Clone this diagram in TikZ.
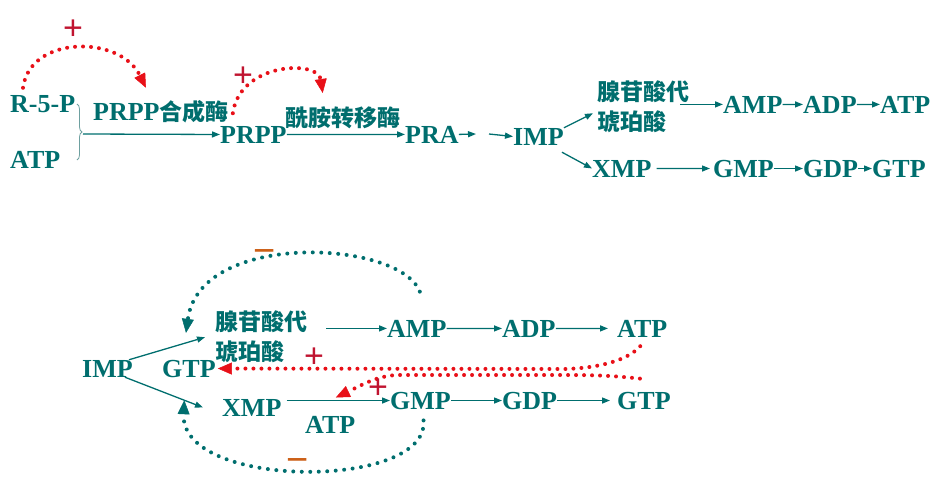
\documentclass[tikz,border=0pt]{standalone}
\usepackage{fontspec}
\setmainfont{Liberation Serif}
\setsansfont{Liberation Sans}
\newfontfamily\cjk{Noto Sans CJK SC}
\usepackage{tikz}
\usetikzlibrary{arrows.meta, decorations.pathreplacing}
\definecolor{myteal}{RGB}{0,110,110}
\definecolor{mybrace}{RGB}{110,160,160}
\definecolor{myred}{RGB}{232,16,24}
\definecolor{mycrimson}{RGB}{192,20,48}
\definecolor{myorange}{RGB}{204,96,24}
\newcommand{\zhtxt}[1]{{\cjk\fontsize{23}{30}\selectfont #1}}
\tikzset{
  met/.style={text=myteal, inner sep=0pt, anchor=base west,
    font=\fontsize{26}{28}\selectfont\bfseries},
  enz/.style={text=myteal, inner sep=0pt, anchor=base west,
    font=\cjk\fontsize{23}{30}\selectfont\bfseries},
  plus/.style={text=mycrimson, inner sep=0pt,
    font=\sffamily\fontsize{34}{34}\selectfont},
  minus/.style={text=myorange, inner sep=0pt,
    font=\sffamily\fontsize{38}{38}\selectfont},
  arrow/.style={-{Triangle[length=8pt, width=6pt]}, line width=1.3pt, color=myteal},
  actv/.style={-{Triangle[length=14pt, width=12pt, line width=0.5pt]}, color=myred,
    line width=4pt, line cap=round, dash pattern=on 0pt off 8pt},
  inhb/.style={-{Triangle[length=14pt, width=12pt, line width=0.5pt]}, color=myteal,
    line width=4pt, line cap=round, dash pattern=on 0pt off 8.5pt}
}

\begin{document}
\begin{tikzpicture}[x=1pt, y=-1pt]
  \useasboundingbox (0,0) rectangle (943,490);

  % De novo route (top)
  \node[met] (r5p) at (10,112) {R-5-P};
  \node[met] (atp1) at (10,168) {ATP};
  \node[met] (prppE) at (93,120) {PRPP\zhtxt{合成酶}};
  \node[met] (prpp) at (220,143) {PRPP};
  \node[enz] (amidoE) at (285,126) {酰胺转移酶};
  \node[met] (pra) at (405,143) {PRA};
  \node[met] (imp1) at (513,145) {IMP};
  \node[enz, anchor=north west, align=left] (adsE1) at (597,81) {腺苷酸代\\琥珀酸};
  \node[met] (amp1) at (723,113) {AMP};
  \node[met] (adp1) at (803,113) {ADP};
  \node[met] (atp2) at (880,113) {ATP};
  \node[met] (xmp1) at (592,177) {XMP};
  \node[met] (gmp1) at (713,177) {GMP};
  \node[met] (gdp1) at (803,177) {GDP};
  \node[met] (gtp1) at (872,177) {GTP};

  \draw[decorate, decoration={brace, amplitude=5pt}, mybrace, line width=0.8pt] (77,104) -- (77,160);
  \coordinate (bt) at (83,134);
  \coordinate (g1) at (476,134);
  \coordinate (g2) at (489,134);

  \draw[arrow] (bt) -- (prpp.west);
  \draw[arrow] (prpp.east) -- (pra.west);
  \draw[arrow] (pra.east) -- (g1);
  \draw[arrow] (g2) -- (imp1.west);
  \draw[arrow] (imp1.north east) -- ([xshift=-4pt,yshift=-6pt]adsE1.west);
  \draw[arrow] ([xshift=-2pt,yshift=-7pt]imp1.south east) -- (xmp1.west);
  \draw[arrow, shorten <=-9pt] (adsE1.east |- amp1.west) -- (amp1.west);
  \draw[arrow] (amp1.east) -- (adp1.west);
  \draw[arrow] (adp1.east) -- (atp2.west);
  \draw[arrow, shorten <=5pt, shorten >=3pt] (xmp1.east) -- (gmp1.west);
  \draw[arrow] (gmp1.east) -- (gdp1.west);
  \draw[arrow] (gdp1.east) -- (gtp1.west);

  % Activation (top)
  \draw[actv] ([xshift=13pt,yshift=7pt]r5p.north west) .. controls (30,35) and (120,35) .. ([xshift=-15pt,yshift=12pt]prppE.north);
  \draw[actv] ([xshift=4pt,yshift=-2pt]prppE.east) .. controls (240,62) and (318,60) .. ([xshift=-20pt,yshift=13pt]amidoE.north);
  \node[plus] (act1) at (73,30) {+};
  \node[plus] (act2) at (243,77) {+};

  % Regulation (bottom)
  \node[met] (imp2) at (82,377) {IMP};
  \node[enz, anchor=north west, align=left] (adsE2) at (215,311) {腺苷酸代\\琥珀酸};
  \node[met] (gtp2) at (162,377) {GTP};
  \node[met] (xmp2) at (222,416) {XMP};
  \node[met] (atp3) at (305,433) {ATP};
  \node[met] (gmp2) at (390,409) {GMP};
  \node[met] (amp2) at (387,337) {AMP};
  \node[met] (adp2) at (502,337) {ADP};
  \node[met] (atp4) at (617,337) {ATP};
  \node[met] (gdp2) at (502,409) {GDP};
  \node[met] (gtp3) at (617,409) {GTP};

  \draw[arrow] ([xshift=-4pt]imp2.north east) -- coordinate[pos=0.75] (ia) ([xshift=-10pt]adsE2.west);
  \draw[arrow] ([xshift=-8pt]imp2.south east) -- coordinate[pos=0.76] (ix) ([xshift=-19pt]xmp2.west);
  \draw[arrow, shorten <=19pt] (adsE2.east |- amp2.west) -- (amp2.west);
  \draw[arrow] (amp2.east) -- (adp2.west);
  \draw[arrow, shorten >=9pt] (adp2.east) -- (atp4.west);
  \draw[arrow, shorten <=5pt] (xmp2.east |- gmp2.west) -- coordinate[pos=0.5] (xg) (gmp2.west);
  \draw[arrow] (gmp2.east) -- (gdp2.west);
  \draw[arrow, shorten >=7pt] (gdp2.east) -- (gtp3.west);

  \draw[actv] ([xshift=-2pt,yshift=-9pt]atp4.south) .. controls (628,360) and (600,368) .. (565,369) -- ([xshift=2pt]gtp2.east);
  \draw[actv] ([xshift=-4pt,yshift=13pt]gtp3.north) .. controls (615,376) and (600,375) .. (565,375) -- (400,375) .. controls (378,375) and (362,385) .. ([yshift=3pt]xg);
  \node[plus] (act3) at (314,358) {+};
  \node[plus] (act4) at (378,389) {+};

  \draw[inhb] ([xshift=3pt,yshift=28pt]amp2.north) .. controls (400,240) and (200,230) .. ([yshift=10pt]ia);
  \draw[inhb] ([xshift=3pt,yshift=-11pt]gmp2.south) .. controls (430,490) and (180,490) .. (ix);
  \node[minus] (inh1) at (265,257) {−};
  \node[minus] (inh2) at (298,465) {−};
\end{tikzpicture}
\end{document}
